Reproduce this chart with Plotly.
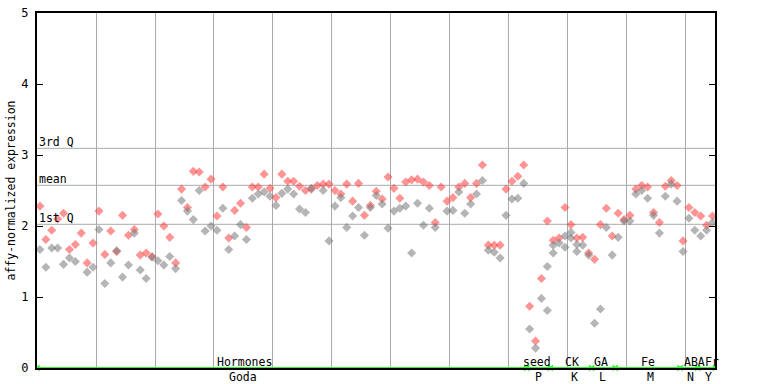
import plotly.graph_objects as go

# ---- data ----
samples = list(range(1, 116))
values_a = [2.28, 1.81, 1.94, 2.10, 2.18, 1.67, 1.74, 1.90, 1.48, 1.76,
            2.21, 1.60, 1.93, 1.64, 2.15, 1.87, 1.95, 1.59, 1.62, 1.57,
            2.17, 2.00, 1.84, 1.48, 2.52, 2.26, 2.77, 2.76, 2.55, 2.66,
            2.14, 2.55, 1.83, 2.22, 2.32, 1.98, 2.55, 2.55, 2.73, 2.53,
            2.40, 2.73, 2.63, 2.63, 2.56, 2.50, 2.52, 2.57, 2.59, 2.59,
            2.50, 2.45, 2.59, 2.35, 2.60, 2.15, 2.29, 2.49, 2.38, 2.69,
            2.53, 2.39, 2.62, 2.65, 2.66, 2.62, 2.57, 2.05, 2.55, 2.35,
            2.40, 2.55, 2.60, 2.40, 2.60, 2.86, 1.73, 1.73, 1.73, 2.52,
            2.63, 2.70, 2.86, 0.87, 0.38, 1.26, 2.07, 1.80, 1.83, 2.26,
            2.02, 1.83, 1.84, 1.62, 1.53, 2.02, 2.25, 1.86, 2.18, 2.09,
            2.15, 2.52, 2.57, 2.55, 2.19, 2.05, 2.56, 2.64, 2.57, 1.79,
            2.26, 2.19, 2.14, 2.01, 2.14]
values_b = [1.67, 1.42, 1.69, 1.69, 1.46, 1.55, 1.50, None, 1.35, 1.42,
            1.95, 1.19, 1.48, 1.65, 1.28, 1.45, 1.90, 1.38, 1.26, 1.56,
            1.51, 1.45, 1.57, 1.40, 2.36, 2.21, 2.09, 2.50, 1.93, 2.00,
            1.94, 2.25, 1.67, 1.86, 2.02, 1.81, 2.39, 2.45, 2.48, 2.42,
            2.29, 2.46, 2.52, 2.45, 2.24, 2.19, 2.53, None, 2.50, 1.79,
            2.28, 2.40, 1.98, 2.14, 2.26, 1.87, 2.26, 2.43, 2.31, 1.97,
            2.21, 2.25, 2.28, 1.62, 2.32, 2.01, 2.25, 1.98, None, 2.21,
            2.22, 2.48, 2.18, 2.31, 2.45, 2.64, 1.66, 1.63, 1.55, 2.15,
            2.38, 2.39, 2.60, 0.55, 0.28, 0.98, 1.43, 1.73, 1.76, 1.86,
            1.91, 1.74, 1.73, 1.59, 0.63, 0.83, 1.98, 1.59, 1.84, 2.07,
            2.07, 2.45, 2.50, 2.39, 2.15, 1.90, 2.42, 2.59, 2.35, 1.64,
            2.11, 1.94, 1.86, 1.94, 2.05]
values_c = {87: 0.81, 88: 1.62, 90: 1.70, 91: 1.83, 92: 1.64}

q1_value, mean_value, q3_value = 2.024, 2.573, 3.094
q_labels = ["1st Q", "mean", "3rd Q"]

groups_top = ["Hormones", "seed", "CK", "GA", "Fe", "ABA", "Fr"]
groups_bottom = ["Goda", "P", "K", "L", "M", "N", "Y"]
group_start = [1, 84, 88, 95, 99, 110, 113]
group_end = [83, 87, 94, 98, 109, 112, 115]
top_label_pos = [35.67, 85.2, 91.2, 96.1, 104.0, 111.9, 114.9]
bottom_label_pos = [35.42, 85.42, 91.52, 96.42, 104.56, 111.34, 114.39]

RED = "rgba(255,60,60,0.55)"
GRAY = "rgba(120,120,120,0.55)"
MONO = "DejaVu Sans Mono"

fig = go.Figure()

xa = [s for s, v in zip(samples, values_a) if v is not None]
ya = [v for v in values_a if v is not None]
xb = [s for s, v in zip(samples, values_b) if v is not None]
yb = [v for v in values_b if v is not None]
xc = list(values_c.keys())
yc = list(values_c.values())

fig.add_trace(go.Scatter(x=xa, y=ya, mode="markers",
                         marker=dict(symbol="diamond", size=7, color=RED, line=dict(width=0)),
                         showlegend=False, hoverinfo="skip"))
fig.add_trace(go.Scatter(x=xb + xc, y=yb + yc, mode="markers",
                         marker=dict(symbol="diamond", size=7, color=GRAY, line=dict(width=0)),
                         showlegend=False, hoverinfo="skip"))

XMAX = 115.42
# quartile lines
for v in (q1_value, mean_value, q3_value):
    fig.add_shape(type="line", xref="x", yref="y", x0=0.5, x1=XMAX, y0=v, y1=v,
                  line=dict(color="#aaaaaa", width=1), layer="below")
for lab, v in zip(q_labels, (q1_value, mean_value, q3_value)):
    fig.add_annotation(xref="paper", yref="y", x=0, y=v, text=lab, showarrow=False,
                       xanchor="left", yanchor="middle", yshift=6,
                       font=dict(family=MONO, size=11.5, color="black"))

# green group line with arrowheads
fig.add_shape(type="line", xref="x", yref="y", x0=0.5, x1=XMAX, y0=0, y1=0,
              line=dict(color="#33ee33", width=2))
fig.add_trace(go.Scatter(x=[s - 0.3 for s in group_start], y=[0] * len(group_start), mode="markers",
                         marker=dict(symbol="triangle-left", size=6, color="#33ee33"),
                         cliponaxis=False, showlegend=False, hoverinfo="skip"))
fig.add_trace(go.Scatter(x=[e + 0.3 for e in group_end], y=[0] * len(group_end), mode="markers",
                         marker=dict(symbol="triangle-right", size=6, color="#33ee33"),
                         cliponaxis=False, showlegend=False, hoverinfo="skip"))

for lab, p in zip(groups_top, top_label_pos):
    fig.add_annotation(xref="x", yref="y", x=p, y=0, text=lab, showarrow=False,
                       xanchor="center", yanchor="middle", yshift=6,
                       font=dict(family=MONO, size=11.5, color="black"))
for lab, p in zip(groups_bottom, bottom_label_pos):
    fig.add_annotation(xref="x", yref="y", x=p, y=0, text=lab, showarrow=False,
                       xanchor="center", yanchor="middle", yshift=-9,
                       font=dict(family=MONO, size=11.5, color="black"))

fig.add_annotation(xref="paper", yref="paper", x=-27 / 678, y=0.5,
                   text="affy-normalized expression", textangle=-90, showarrow=False,
                   xanchor="center", yanchor="middle",
                   font=dict(family=MONO, size=11.5, color="black"))

fig.update_layout(
    width=768, height=384,
    margin=dict(l=37, r=53, t=13, b=16),
    paper_bgcolor="white", plot_bgcolor="white",
    xaxis=dict(range=[0.5, XMAX], tickvals=[10.5 + 10 * k for k in range(11)],
               showticklabels=False, ticks="", showgrid=True, gridcolor="#aaaaaa",
               gridwidth=1, zeroline=False, showline=True, linecolor="black",
               linewidth=2, mirror=True, fixedrange=True, automargin=False),
    yaxis=dict(range=[0, 5], tickvals=[0, 1, 2, 3, 4, 5], ticks="inside", ticklen=6,
               tickcolor="black", tickwidth=1, showline=True, linecolor="black",
               linewidth=2, mirror="ticks", showgrid=False, zeroline=False,
               tickfont=dict(family=MONO, size=12, color="black"), ticklabelstandoff=4,
               fixedrange=True, automargin=False),
)

fig.write_html("out.html", config={"displayModeBar": False, "staticPlot": True},
               post_script="document.body.style.margin='0';document.body.style.overflow='hidden';")
